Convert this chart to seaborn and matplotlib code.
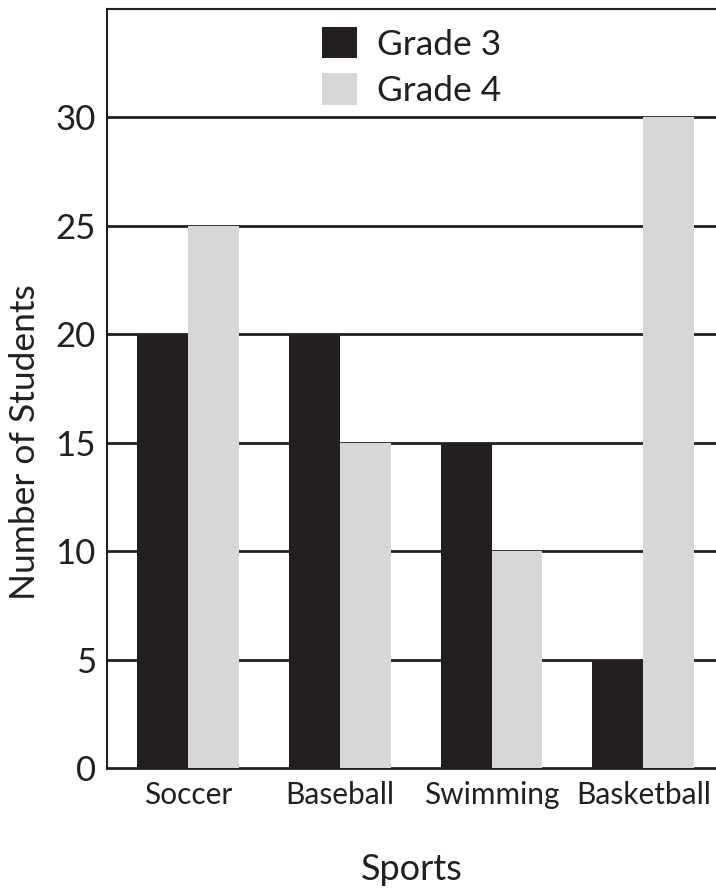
import matplotlib
matplotlib.use("Agg")
import matplotlib.pyplot as plt
import seaborn as sns
import pandas as pd

sports = ["Soccer", "Baseball", "Swimming", "Basketball"]
grade3 = [20, 20, 15, 5]
grade4 = [25, 15, 10, 30]
series_names = ["Grade 3", "Grade 4"]
yticks = [0, 5, 10, 15, 20, 25, 30]

df = pd.DataFrame({
    "Sports": sports * 2,
    "Number of Students": grade3 + grade4,
    "Grade": [series_names[0]] * 4 + [series_names[1]] * 4,
})

sns.set_style("white")
plt.rcParams["font.family"] = ["Lato", "DejaVu Sans"]
plt.rcParams["font.weight"] = "normal"
TXT = "#231f20"

fig = plt.figure(figsize=(7.16, 8.9), dpi=100)
ax = fig.add_axes([0.1494, 0.137, 0.8506, 0.853])

sns.barplot(data=df, x="Sports", y="Number of Students", hue="Grade",
            palette=["#231f20", "#d6d7d9"], saturation=1, width=0.67,
            linewidth=0, ax=ax, zorder=3)

ax.set_ylim(0, 35)
ax.set_xlim(-0.535, 3.48)
ax.set_yticks(yticks)
for y in yticks[1:]:
    ax.axhline(y, color=TXT, lw=2, zorder=1)

ax.spines["right"].set_visible(False)
for s in ["left", "top", "bottom"]:
    ax.spines[s].set_color(TXT)
    ax.spines[s].set_linewidth(1.5)
ax.spines["bottom"].set_linewidth(2)

ax.tick_params(axis="y", length=0, pad=8, labelsize=25, labelcolor=TXT)
ax.tick_params(axis="x", length=0, pad=9, labelsize=21.5, labelcolor=TXT)
ax.set_ylabel("Number of Students", fontsize=25.5, color=TXT)
ax.yaxis.set_label_coords(-0.108, 0.43)
ax.set_xlabel("Sports", fontsize=26, color=TXT, labelpad=32)

leg = ax.legend(loc="upper center", bbox_to_anchor=(0.5, 1.0), frameon=False,
                fontsize=25.5, handlelength=1.0, handleheight=1.0,
                handletextpad=0.55, labelspacing=0.35, borderaxespad=0.1)
for t in leg.get_texts():
    t.set_color(TXT)

fig.savefig("out.png", dpi=100)
